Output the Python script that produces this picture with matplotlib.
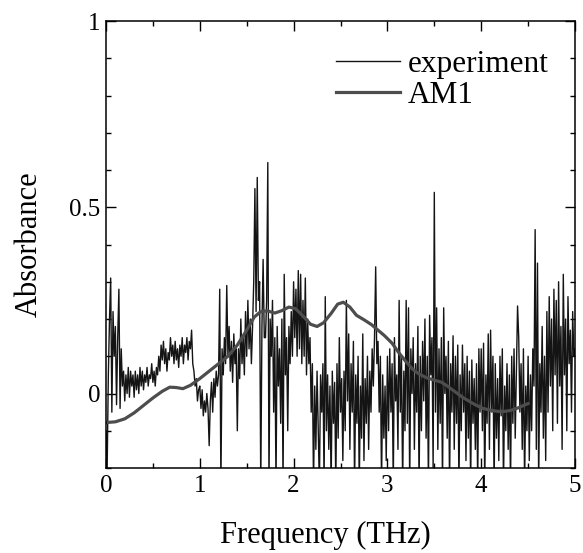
import numpy as np
import matplotlib
matplotlib.use("Agg")
from matplotlib import pyplot as plt

exp_step = 0.0125
exp_vals = [
    -0.10, -0.20, 0.05, 0.20, 0.31, -0.05, 0.22, 0.10,
    0.18, -0.03, 0.15, 0.28, -0.04, 0.12, 0.02, 0.06,
    -0.02, 0.05, 0.00, 0.07, -0.01, 0.06, 0.02, 0.05,
    -0.01, 0.06, 0.01, 0.05, 0.00, 0.07, 0.02, 0.06,
    0.01, 0.05, 0.03, 0.07, 0.02, 0.05, 0.04, 0.08,
    0.03, 0.06, 0.02, 0.07, 0.05, 0.10, 0.06, 0.13,
    0.09, 0.14, 0.08, 0.12, 0.06, 0.11, 0.09, 0.15,
    0.10, 0.13, 0.08, 0.14, 0.09, 0.12, 0.07, 0.13,
    0.10, 0.15, 0.08, 0.13, 0.11, 0.15, 0.09, 0.14,
    0.12, 0.17, 0.08, 0.06, 0.02, 0.04, -0.02, 0.01,
    0.02, -0.04, 0.01, -0.06, -0.02, -0.05, 0.00, -0.04,
    -0.14, -0.02, 0.03, -0.05, 0.04, -0.01, 0.06, 0.02,
    0.05, 0.28, -0.25, 0.12, 0.05, 0.15, 0.08, 0.29,
    0.10, 0.18, 0.06, 0.14, 0.03, 0.16, 0.08, 0.12,
    -0.10, 0.12, 0.04, 0.20, 0.08, 0.15, 0.05, 0.22,
    0.10, 0.25, 0.12, 0.20, 0.08, 0.18, 0.30, 0.55,
    0.22, 0.58, 0.25, 0.30, -0.25, 0.18, 0.36, 0.15,
    0.15, 0.25, 0.62, -0.25, 0.20, 0.10, 0.25, -0.05,
    0.15, -0.25, 0.18, 0.02, 0.12, -0.08, 0.20, -0.25,
    0.32, 0.05, 0.15, -0.10, 0.18, 0.08, 0.22, 0.10,
    0.30, 0.15, 0.28, 0.10, 0.33, 0.12, 0.32, 0.08,
    0.25, 0.10, 0.31, 0.05, 0.20, 0.08, 0.15, -0.05,
    0.08, -0.25, 0.02, -0.15, 0.06, -0.10, -0.25, 0.05,
    -0.05, 0.08, -0.25, 0.26, -0.10, 0.05, -0.15, 0.02,
    -0.25, 0.06, -0.08, 0.03, -0.25, 0.08, -0.12, 0.15,
    -0.05, 0.04, -0.18, 0.06, -0.10, 0.25, -0.02, 0.16,
    -0.15, 0.08, -0.05, 0.14, -0.25, 0.05, -0.08, 0.10,
    -0.25, 0.02, -0.12, 0.16, -0.18, 0.04, -0.08, 0.10,
    -0.15, 0.06, -0.05, 0.12, 0.02, 0.15, 0.34, 0.08,
    0.14, -0.05, 0.10, -0.25, 0.05, -0.12, 0.02, -0.18,
    0.10, -0.10, 0.12, -0.05, 0.08, -0.25, 0.15, -0.02,
    0.05, -0.15, 0.25, -0.05, 0.10, -0.25, 0.06, -0.10,
    0.25, -0.08, 0.23, -0.25, 0.12, 0.00, 0.15, -0.15,
    0.08, -0.05, 0.18, -0.25, 0.10, -0.10, 0.14, -0.02,
    0.20, -0.12, 0.10, -0.25, 0.21, 0.05, 0.15, -0.20,
    0.54, -0.05, 0.23, -0.15, 0.12, -0.08, 0.15, -0.25,
    0.23, 0.00, 0.10, -0.12, 0.14, -0.25, 0.08, -0.05,
    0.155, -0.15, 0.10, -0.08, 0.13, -0.25, 0.05, -0.10,
    0.13, -0.05, 0.08, -0.18, 0.10, -0.12, 0.06, -0.25,
    0.09, -0.08, 0.04, -0.15, 0.08, -0.25, 0.12, -0.05,
    0.12, -0.10, 0.135, -0.25, 0.05, -0.08, 0.16, -0.15,
    0.17, -0.05, 0.10, -0.25, 0.08, -0.12, 0.04, -0.18,
    0.10, -0.06, 0.12, -0.25, 0.02, -0.10, 0.08, -0.15,
    0.05, -0.25, 0.10, -0.08, 0.12, -0.12, 0.06, 0.235,
    0.15, -0.05, 0.08, -0.15, 0.12, -0.25, 0.02, -0.10,
    0.10, -0.18, 0.05, -0.10, 0.12, 0.02, 0.44, -0.15,
    0.35, -0.25, 0.08, -0.05, 0.18, -0.12, 0.10, -0.18,
    0.22, -0.05, 0.26, 0.02, 0.20, -0.10, 0.28, 0.05,
    0.25, -0.08, 0.30, 0.02, 0.18, -0.15, 0.32, 0.05,
    0.20, -0.10, 0.26, 0.08, 0.17, -0.05, 0.22, 0.10,
    0.12,
]
exp_freq = np.arange(len(exp_vals)) * exp_step

# AM1 calculated curve
am1_freq = [0.0, 0.1, 0.2, 0.3, 0.4, 0.5, 0.6, 0.68, 0.75, 0.82, 0.9, 1.0,
            1.1, 1.2, 1.3, 1.4, 1.5, 1.58, 1.65, 1.72, 1.8, 1.87, 1.95, 2.02,
            2.1, 2.18, 2.25, 2.32, 2.4, 2.47, 2.53, 2.6, 2.67, 2.75, 2.83,
            2.9, 2.97, 3.05, 3.12, 3.2, 3.27, 3.34, 3.42, 3.5, 3.58, 3.65,
            3.72, 3.8, 3.88, 3.95, 4.02, 4.1, 4.18, 4.25, 4.32, 4.4, 4.47, 4.5]
am1_vals = [-0.078, -0.076, -0.068, -0.052, -0.032, -0.012, 0.006, 0.017,
            0.016, 0.013, 0.022, 0.04, 0.06, 0.08, 0.10, 0.13, 0.17, 0.205,
            0.22, 0.222, 0.216, 0.222, 0.232, 0.228, 0.208, 0.186, 0.18, 0.19,
            0.215, 0.24, 0.245, 0.232, 0.21, 0.198, 0.185, 0.17, 0.155, 0.135,
            0.11, 0.085, 0.065, 0.052, 0.042, 0.036, 0.03, 0.018, 0.005,
            -0.01, -0.022, -0.032, -0.04, -0.045, -0.048, -0.048, -0.045,
            -0.038, -0.03, -0.027]

plt.rcParams['font.family'] = ['Liberation Serif', 'DejaVu Serif']

fig = plt.figure(figsize=(5.83, 5.53), dpi=100)
ax = fig.add_axes([0.1818, 0.1537, 0.8045, 0.8083])

ax.plot(exp_freq, exp_vals, color='#141414', lw=1.0, label='experiment')
ax.plot(am1_freq, am1_vals, color='#4d4d4d', lw=2.3, label='AM1')

ax.set_xlim(0, 5)
ax.set_ylim(-0.2, 1)
ax.set_xticks([0, 1, 2, 3, 4, 5])
ax.set_xticks(np.arange(0, 5.01, 0.5), minor=True)
ax.set_yticks([0, 0.5, 1])
ax.set_yticklabels(['0', '0.5', '1'])
ax.set_yticks(np.arange(-0.2, 1.01, 0.1), minor=True)
ax.tick_params(which='both', direction='in', top=True, right=True,
               labelsize=18, width=1)
ax.tick_params(which='major', length=7)
ax.tick_params(which='minor', length=3.5)
ax.tick_params(axis='x', pad=5)
ax.tick_params(axis='y', pad=4)
for s in ax.spines.values():
    s.set_linewidth(1.1)

ax.set_xlabel('Frequency (THz)', fontsize=22)
ax.xaxis.set_label_coords(0.467, -0.118)
ax.set_ylabel('Absorbance', fontsize=22, labelpad=18)

ax.legend(loc='upper left', bbox_to_anchor=(0.49, 0.935), frameon=False,
          fontsize=22.5, handlelength=2.05, handletextpad=0.25,
          labelspacing=0.07, borderpad=0, borderaxespad=0)

fig.savefig('out.png', dpi=100)
